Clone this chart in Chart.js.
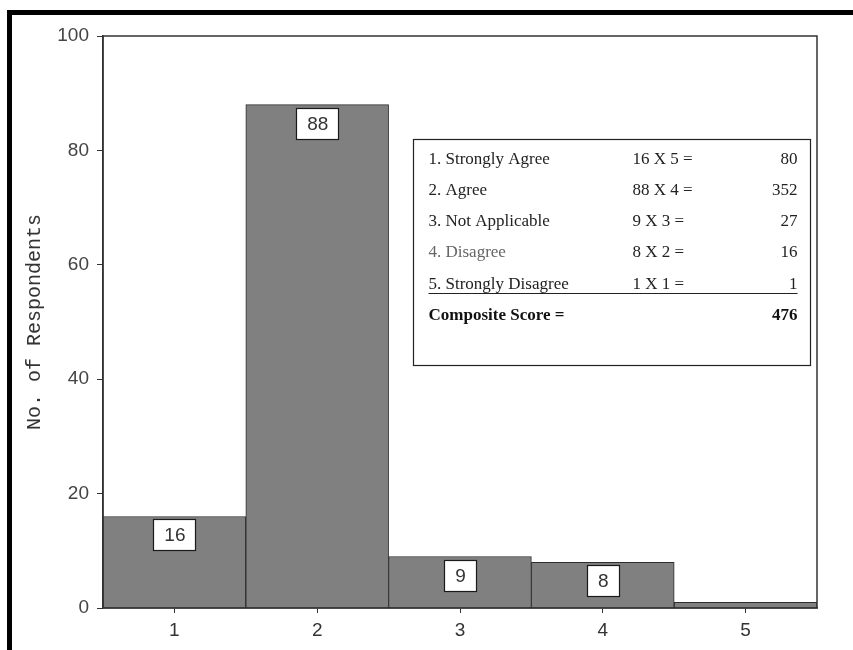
<!DOCTYPE html>
<html>
<head>
<meta charset="utf-8">
<script src="https://cdn.jsdelivr.net/npm/chart.js@4.4.1/dist/chart.umd.min.js"></script>
<style>
  html, body { margin: 0; padding: 0; background: #fff; }
  body { width: 853px; height: 650px; position: relative; overflow: hidden; }
  .frame { position: absolute; left: 7px; top: 10px; right: 0; bottom: 0; border-top: 5px solid #000; border-left: 5px solid #000; }
  .frame canvas { display: block; }
</style>
</head>
<body>
<div class="frame"><canvas id="respChart" width="841" height="635"></canvas></div>
<script>
// ====== DATA ====== //
const categories = ['1', '2', '3', '4', '5'];
const respondents = [16, 88, 9, 8, 1];
const scaleLabels = ['1. Strongly Agree', '2. Agree', '3. Not Applicable', '4. Disagree', '5. Strongly Disagree'];
const weights = [5, 4, 3, 2, 1];
const yMin = 0;
const yMax = 100;
const yStep = 20;
const yTitle = 'No. of Respondents';
const compositeLabel = 'Composite Score =';

const tickFont = { family: '"Liberation Sans", Arial, sans-serif', size: 19 };
const lineColor = '#333';

// kotak garis di sekeliling area plot
const plotFrame = {
    id: 'plotFrame',
    afterDatasetsDraw(chart) {
        const { ctx, chartArea: a } = chart;
        ctx.save();
        ctx.strokeStyle = lineColor;
        ctx.lineWidth = 1.5;
        ctx.strokeRect(a.left, a.top, a.right - a.left, a.bottom - a.top);
        ctx.restore();
    }
};

// label nilai di dalam batang (kotak putih)
const barLabels = {
    id: 'barLabels',
    afterDatasetsDraw(chart) {
        const ctx = chart.ctx;
        const meta = chart.getDatasetMeta(0);
        ctx.save();
        ctx.font = '19px "Liberation Sans", Arial, sans-serif';
        ctx.textAlign = 'center';
        ctx.textBaseline = 'middle';
        meta.data.forEach((bar, i) => {
            const text = String(respondents[i]);
            const w = Math.round(ctx.measureText(text).width + 21);
            const h = 31;
            if (bar.base - bar.y < h + 6) return;
            const x = Math.round(bar.x - w / 2) + 0.5;
            const y = Math.round(bar.y + 3) + 0.5;
            ctx.fillStyle = '#fff';
            ctx.fillRect(x, y, w, h);
            ctx.strokeStyle = '#1a1a1a';
            ctx.lineWidth = 1.2;
            ctx.strokeRect(x, y, w, h);
            ctx.fillStyle = '#333';
            ctx.fillText(text, bar.x + 0.5, y + h / 2 + 1);
        });
        ctx.restore();
    }
};

// tabel skor komposit
const scoreTable = {
    id: 'scoreTable',
    afterDraw(chart) {
        const { ctx, chartArea, scales: { y } } = chart;
        const right = Math.round(chartArea.right - 7) + 0.5;
        const left = right - 397;
        const top = Math.round(y.getPixelForValue(82)) + 0.5;
        const bottom = Math.round(y.getPixelForValue(42.5)) + 0.5;

        ctx.save();
        ctx.fillStyle = '#fff';
        ctx.fillRect(left, top, right - left, bottom - top);
        ctx.strokeStyle = '#222';
        ctx.lineWidth = 1.2;
        ctx.strokeRect(left, top, right - left, bottom - top);

        const col1 = left + 15;
        const col2 = left + 219;
        const col3 = right - 13;
        const rowH = 31.3;
        const base0 = top + 24;
        ctx.textBaseline = 'alphabetic';
        ctx.font = '17px "Liberation Serif", "Times New Roman", serif';

        let composite = 0;
        scaleLabels.forEach((lab, i) => {
            const by = base0 + i * rowH;
            const score = respondents[i] * weights[i];
            composite += score;
            ctx.textAlign = 'left';
            ctx.fillStyle = i === 3 ? '#666' : '#222';
            ctx.fillText(lab, col1, by);
            ctx.fillStyle = '#222';
            ctx.fillText(respondents[i] + ' X ' + weights[i] + ' =', col2, by);
            ctx.textAlign = 'right';
            ctx.fillText(String(score), col3, by);
        });

        // garis bawah baris terakhir
        const lineY = Math.round(base0 + 4 * rowH + 4) + 0.5;
        ctx.strokeStyle = '#222';
        ctx.lineWidth = 1;
        ctx.beginPath();
        ctx.moveTo(col1, lineY);
        ctx.lineTo(col3, lineY);
        ctx.stroke();

        const cy = base0 + 5 * rowH;
        ctx.font = 'bold 17px "Liberation Serif", "Times New Roman", serif';
        ctx.fillStyle = '#111';
        ctx.textAlign = 'left';
        ctx.fillText(compositeLabel, col1, cy);
        ctx.textAlign = 'right';
        ctx.fillText(String(composite), col3, cy);
        ctx.restore();
    }
};

// ====== SETUP CHART.JS ====== //
const chart = new Chart(document.getElementById('respChart'), {
    type: 'bar',
    data: {
        labels: categories,
        datasets: [{
            data: respondents,
            backgroundColor: '#808080',
            borderColor: '#2e2e2e',
            borderWidth: 1,
            categoryPercentage: 1,
            barPercentage: 1
        }]
    },
    options: {
        responsive: false,
        animation: false,
        layout: { padding: { top: 21, right: 36, left: 0, bottom: 0 } },
        plugins: {
            legend: { display: false },
            tooltip: { enabled: false }
        },
        scales: {
            x: {
                grid: { offset: false, drawOnChartArea: false, tickLength: 5, color: lineColor },
                border: { color: lineColor, width: 1.5 },
                ticks: { font: tickFont, color: '#333', padding: 6 },
                afterFit: (s) => { s.height = 42; }
            },
            y: {
                min: yMin,
                max: yMax,
                ticks: { stepSize: yStep, font: tickFont, color: '#444', padding: 8 },
                grid: { drawOnChartArea: false, tickLength: 6, color: lineColor },
                border: { color: lineColor, width: 1.5 },
                title: {
                    display: true,
                    text: yTitle,
                    color: '#333',
                    font: { family: '"Liberation Mono", "Courier New", monospace', size: 20 },
                    padding: { top: 11, bottom: 0 }
                },
                afterFit: (s) => { s.width = 91; }
            }
        }
    },
    plugins: [plotFrame, barLabels, scoreTable]
});
</script>
</body>
</html>
